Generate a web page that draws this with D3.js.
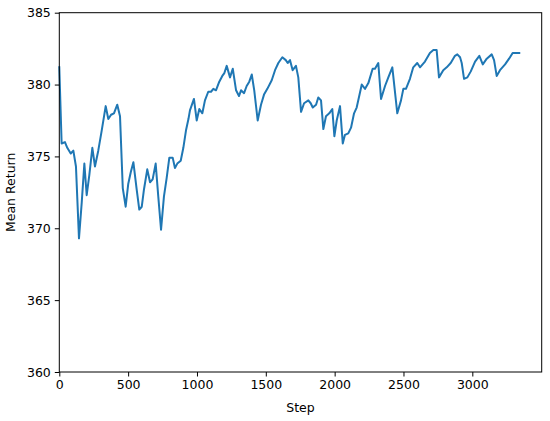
<!DOCTYPE html>
<html>
<head>
<meta charset="utf-8">
<script src="https://cdn.jsdelivr.net/npm/d3@7"></script>
<style>
  html, body { margin: 0; padding: 0; background: #fff; }
  svg { display: block; }
  text { font-family: "DejaVu Sans", sans-serif; }
</style>
</head>
<body>
<svg id="chart" width="550" height="421"></svg>
<script>
// ---- data ----
const steps = [0,17,41,58,83,102,121,143,163,182,199,218,240,259,283,308,337,356,376,397,421,441,461,482,501,519,538,562,581,599,615,639,659,678,700,719,739,760,780,799,824,840,857,882,901,920,938,949,978,998,1017,1039,1058,1082,1102,1119,1138,1162,1184,1199,1216,1240,1260,1284,1305,1320,1342,1361,1380,1398,1416,1441,1465,1487,1511,1543,1567,1591,1620,1645,1659,1676,1695,1719,1736,1756,1778,1809,1826,1841,1865,1881,1901,1918,1937,1961,1983,1998,2015,2039,2059,2075,2099,2119,2141,2160,2197,2221,2245,2276,2293,2317,2337,2366,2390,2419,2455,2482,2499,2518,2547,2571,2600,2620,2656,2692,2717,2741,2758,2789,2814,2843,2874,2891,2911,2923,2940,2964,2988,3020,3051,3076,3105,3141,3158,3177,3201,3238,3267,3293,3317,3341];
const meanReturn = [381.2,375.9,376.0,375.6,375.2,375.4,374.3,369.3,371.8,374.5,372.3,373.7,375.6,374.3,375.4,376.8,378.5,377.6,377.9,378.0,378.6,377.8,372.8,371.5,373.1,373.9,374.6,372.7,371.3,371.5,372.7,374.1,373.2,373.4,374.5,372.2,369.9,372.2,373.5,374.9,374.9,374.2,374.5,374.7,375.6,376.8,377.6,378.2,379.0,377.5,378.3,378.0,378.9,379.5,379.5,379.7,379.6,380.2,380.6,380.8,381.3,380.5,381.1,379.6,379.2,379.6,379.4,379.9,380.2,380.7,379.6,377.5,378.6,379.3,379.7,380.3,381.0,381.5,381.9,381.7,381.5,381.7,381.0,381.3,380.5,378.1,378.7,378.9,378.7,378.4,378.6,379.1,378.9,376.9,377.8,378.0,378.3,376.4,377.5,378.5,375.9,376.5,376.6,377.0,378.0,378.4,380.0,379.7,380.1,381.1,381.1,381.5,379.0,379.9,380.5,381.2,378.0,378.9,379.7,379.7,380.4,381.2,381.5,381.2,381.6,382.2,382.4,382.4,380.5,381.0,381.2,381.5,382.0,382.1,381.9,381.5,380.4,380.5,380.9,381.6,382.0,381.4,381.8,382.1,381.7,380.6,381.0,381.4,381.8,382.2,382.2,382.2];
const xTicks = [0,500,1000,1500,2000,2500,3000];
const yTicks = [360,365,370,375,380,385];
const xDomain = [0, 3504];
const yDomain = [360, 385];
const xLabel = "Step";
const yLabel = "Mean Return";

// ---- layout ----
const svg = d3.select("#chart");
const L = 59.3, R = 541.7, T = 12.7, B = 372;
const x = d3.scaleLinear().domain(xDomain).range([L, R]);
const y = d3.scaleLinear().domain(yDomain).range([B, T]);

// line
const pts = steps.map((s, i) => [s, meanReturn[i]]);
const line = d3.line().x(d => x(d[0])).y(d => y(d[1]));
svg.append("path")
  .datum(pts)
  .attr("d", line)
  .attr("fill", "none")
  .attr("stroke", "#1f77b4")
  .attr("stroke-width", 2)
  .attr("stroke-linejoin", "round")
  .attr("stroke-linecap", "square");

// axes
const xAxis = d3.axisBottom(x).tickValues(xTicks).tickSize(4.5).tickPadding(4).tickFormat(d3.format("d"));
const yAxis = d3.axisLeft(y).tickValues(yTicks).tickSize(4.5).tickPadding(4).tickFormat(d3.format("d"));

const gx = svg.append("g").attr("transform", `translate(0,${B})`).call(xAxis);
const gy = svg.append("g").attr("transform", `translate(${L},0)`).call(yAxis);
[gx, gy].forEach(g => {
  g.select(".domain").remove();
  g.selectAll(".tick line").attr("stroke", "#000").attr("stroke-width", 1);
  g.selectAll(".tick text").attr("fill", "#000").style("font-size", "12.5px").style("font-family", "'DejaVu Sans', sans-serif");
});

// spines
svg.append("rect")
  .attr("x", L).attr("y", T)
  .attr("width", R - L).attr("height", B - T)
  .attr("fill", "none").attr("stroke", "#000").attr("stroke-width", 1);

// labels
svg.append("text")
  .attr("x", (L + R) / 2).attr("y", 412)
  .attr("text-anchor", "middle")
  .style("font-size", "12.5px")
  .text(xLabel);
svg.append("text")
  .attr("transform", `translate(15,${(T + B) / 2}) rotate(-90)`)
  .attr("text-anchor", "middle")
  .style("font-size", "12.5px")
  .text(yLabel);
</script>
</body>
</html>
